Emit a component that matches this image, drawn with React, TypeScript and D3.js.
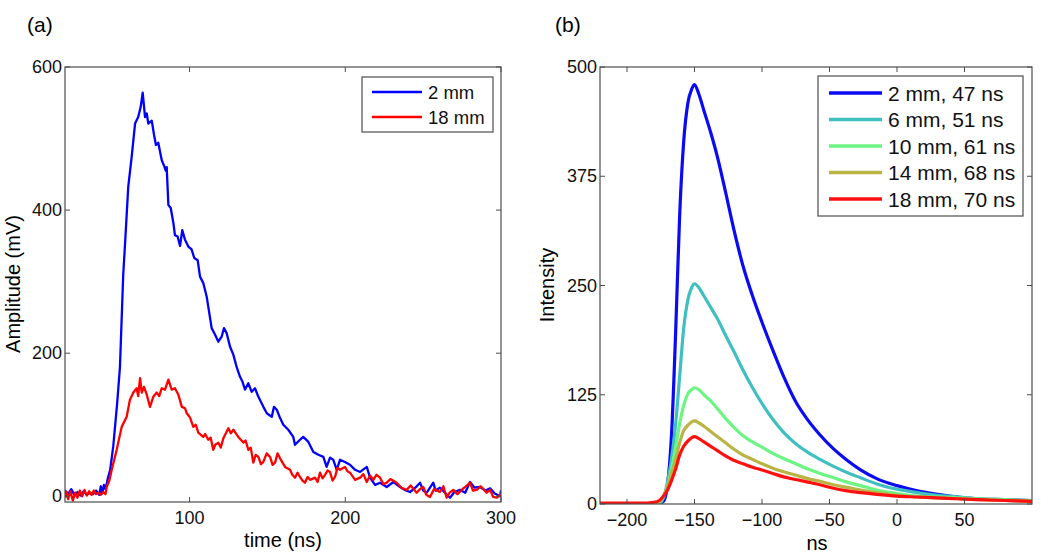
import React, { useRef, useEffect } from "react";
import * as d3 from "d3";

const W = 1050;
const H = 556;
const FONT = "'Liberation Sans', Arial, Helvetica, sans-serif";

// ---- panel (a): amplitude vs time ----
const timeTicks = [100, 200, 300];
const ampTicks = [0, 200, 400, 600];

// [time ns, amplitude mV]
const amp2mm: [number, number][] = [
  [20, 8], [22, 3], [24, 10], [26, 2], [28, 6], [30, 1], [32, 7], [34, 2], [36, 5], [38, 3],
  [40, 8], [42, 2], [43, 14], [44, 4], [45, 16], [46, 10], [47.5, 25], [49, 37], [51, 70],
  [53.5, 130], [55.3, 181], [57.4, 310], [58.7, 358], [60.6, 432], [62.8, 474], [65, 521],
  [67, 530], [68.6, 544], [69.9, 564], [71.4, 530], [72.5, 535], [73.5, 521], [75.7, 525],
  [77.2, 505], [78.4, 491], [79.9, 494], [82.1, 470], [83.6, 462], [84.7, 455], [85.3, 460],
  [86.4, 407], [87.9, 403], [89.6, 382], [90.6, 365], [92.3, 363], [93.9, 350], [95.3, 372],
  [97, 359], [99.2, 349], [101.3, 345], [103, 333], [105.2, 330], [106.7, 307], [108.8, 298],
  [111, 279], [112, 265], [114.2, 235], [116.3, 226], [118.5, 216], [120.6, 223], [122.1, 235],
  [123.8, 228], [126, 209], [128.1, 198], [130.3, 180], [132.4, 167], [134, 160], [135.6, 149],
  [137.7, 158], [139.9, 146], [142, 151], [144.2, 139], [147.4, 125], [149.6, 116], [152.8, 111],
  [154.2, 125], [156, 121], [158, 110], [160.2, 100], [163.4, 93], [166.6, 83], [167.7, 72],
  [170.9, 79], [173, 83], [176.3, 76], [179.5, 62], [182.7, 58], [185.9, 55], [188, 41],
  [190.2, 54], [192.3, 51], [194.5, 37], [196.6, 51], [199.8, 48], [203, 44], [206.3, 37],
  [209.5, 34], [213.8, 41], [215.9, 26], [219.1, 16], [222.3, 19], [226.6, 13], [230.9, 20],
  [235.2, 13], [238, 9], [241.6, 6], [245, 12], [248, 19], [250, 8], [252.3, 5], [256.5, 19],
  [258, 8], [260.8, 12], [264, 5], [267.3, -2], [270, 6], [273.7, 9], [277, 5], [280.1, 20],
  [283, 12], [286.5, 13], [290, 8], [293, 11], [296, 4], [299.4, 0], [300, 8],
];

const amp18mm: [number, number][] = [
  [20, -2], [21, 6], [22, -4], [23.5, 7], [25, -6], [26.5, 5], [28, -2], [29.5, 8], [31, 0],
  [32.5, 9], [34, 1], [35.5, 7], [37, 2], [38.5, 8], [40, 3], [41.5, 5], [43, 2], [44.5, 6],
  [46, 3], [46.8, 13], [48.5, 22], [50, 37], [53.2, 65], [56.4, 97], [59.6, 111], [61.7, 135],
  [63.9, 145], [66, 151], [67, 140], [68.2, 165], [69.3, 145], [70.7, 153], [72.5, 142],
  [74.6, 125], [76.7, 139], [78.9, 145], [80.5, 140], [82.1, 151], [84.2, 149], [86.4, 163],
  [88.5, 149], [90.6, 151], [92.8, 142], [95, 125], [97.1, 123], [98.2, 116], [100.3, 110],
  [102.4, 97], [104, 100], [105.6, 89], [108.8, 83], [110, 87], [112, 79], [113.5, 82],
  [115.2, 65], [116.5, 72], [118.5, 75], [120, 68], [121.7, 81], [124.9, 95], [126.5, 88],
  [128.1, 93], [131.3, 83], [134.5, 75], [136, 78], [137.7, 65], [139.3, 68], [140.9, 47],
  [142.5, 58], [144.2, 55], [145.8, 45], [147.4, 48], [149.5, 60], [151.7, 55], [153.3, 44],
  [154.9, 47], [156.5, 60], [158.1, 53], [161.3, 41], [164.5, 37], [166, 30], [167.7, 26],
  [169.3, 33], [170.9, 27], [172.5, 22], [174.1, 19], [175.8, 27], [177.4, 23], [180.6, 26],
  [182.2, 20], [183.8, 33], [185.4, 25], [187, 30], [188.6, 36], [190.2, 34], [191.8, 22],
  [193.4, 27], [195, 40], [196.6, 37], [199.8, 41], [201.4, 35], [203, 33], [206.3, 23],
  [209.5, 26], [211.6, 31], [213.8, 20], [215.9, 29], [218, 23], [220, 30], [222.3, 26],
  [224.5, 17], [226.6, 19], [229, 24], [233, 19], [236, 12], [239.4, 9], [242, 15], [245.8, 5],
  [248, 10], [250.1, 13], [252, 2], [254.4, -1], [257, 10], [260.8, 6], [263, 14], [265.1, -2],
  [267, 5], [269.4, 9], [272, 3], [275.8, 11], [278, 15], [280.1, 19], [282, 8], [284.4, 9],
  [287, 14], [290.8, 5], [293, 9], [295, -1], [297.3, -2], [300, 3],
];

const seriesA = [
  { label: "2 mm", color: "#0000ff", values: amp2mm },
  { label: "18 mm", color: "#ff0000", values: amp18mm },
];

// ---- panel (b): intensity vs ns ----
const nsTicks = [-200, -150, -100, -50, 0, 50];
const intensityTicks = [0, 125, 250, 375, 500];
const nsGrid = [
  -220, -190, -180, -176, -173, -170, -167, -164, -161, -158, -155, -152, -150, -147, -143,
  -138, -133, -127, -121, -114, -107, -100, -92, -84, -75, -66, -57, -47, -37, -27, -15, 0,
  15, 30, 45, 60, 80, 100,
];
const int2mm = [
  0, 0, 0, 1, 3, 22, 80, 195, 330, 415, 458, 475, 480, 470, 450, 425, 397, 357, 315, 272, 238,
  208, 176, 146, 117, 96, 79, 63, 50, 39, 29, 21, 15, 11, 8, 6, 5, 4,
];
const int6mm = [
  0, 0, 0, 1, 7, 25, 52, 91, 146, 201, 233, 248, 252, 248, 238, 225, 212, 193, 175, 153, 133,
  115, 97, 82, 69, 59, 51, 43, 36, 30, 23, 17, 13, 10, 8, 6, 4, 3,
];
const int10mm = [
  0, 0, 0, 2, 9, 20, 40, 65, 92, 113, 126, 131, 133, 131, 125, 118, 109, 98, 88, 78, 71, 65,
  58, 52, 46, 40, 35, 30, 25, 21, 16, 12, 9, 8, 7, 6, 5, 4,
];
const int14mm = [
  0, 0, 1, 3, 9, 20, 35, 51, 70, 84, 90, 94, 95, 93, 89, 83, 77, 70, 63, 56, 51, 46, 41, 37,
  33, 29, 26, 22, 19, 16, 13, 10, 8, 7, 6, 5, 4, 3,
];
const int18mm = [
  1, 1, 2, 4, 9, 16, 27, 40, 56, 66, 72, 76, 77, 75, 71, 66, 61, 55, 50, 46, 42, 39, 35, 31,
  28, 25, 22, 18, 15, 13, 11, 9, 8, 7, 6, 5, 4, 3,
];

const seriesB = [
  { label: "2 mm, 47 ns", color: "#0a0af5", values: int2mm },
  { label: "6 mm, 51 ns", color: "#3fbfbf", values: int6mm },
  { label: "10 mm, 61 ns", color: "#6cf582", values: int10mm },
  { label: "14 mm, 68 ns", color: "#b9b444", values: int14mm },
  { label: "18 mm, 70 ns", color: "#ff1010", values: int18mm },
];

type G = d3.Selection<SVGGElement, unknown, null, undefined>;

// MATLAB-like boxed axes with inward ticks on all four sides
function drawFrame(
  g: G,
  x: d3.ScaleLinear<number, number>,
  y: d3.ScaleLinear<number, number>,
  xTicks: number[],
  yTicks: number[]
) {
  const [x0, x1] = x.range();
  const [y0, y1] = y.range();
  const tick = 5;
  const axisColor = "#4d4d4d";
  const fmt = d3.format("");

  g.append("rect")
    .attr("x", x0)
    .attr("y", y1)
    .attr("width", x1 - x0)
    .attr("height", y0 - y1)
    .attr("fill", "none")
    .attr("stroke", axisColor)
    .attr("stroke-width", 1.2);

  xTicks.forEach((t) => {
    const px = x(t);
    g.append("line").attr("x1", px).attr("x2", px).attr("y1", y0).attr("y2", y0 - tick)
      .attr("stroke", axisColor);
    g.append("line").attr("x1", px).attr("x2", px).attr("y1", y1).attr("y2", y1 + tick)
      .attr("stroke", axisColor);
    g.append("text")
      .attr("x", px)
      .attr("y", y0 + 22)
      .attr("text-anchor", "middle")
      .style("font-size", "18px")
      .style("fill", "#111")
      .text(fmt(t));
  });

  yTicks.forEach((t) => {
    const py = y(t);
    g.append("line").attr("x1", x0).attr("x2", x0 + tick).attr("y1", py).attr("y2", py)
      .attr("stroke", axisColor);
    g.append("line").attr("x1", x1).attr("x2", x1 - tick).attr("y1", py).attr("y2", py)
      .attr("stroke", axisColor);
    g.append("text")
      .attr("x", x0 - 3)
      .attr("y", py + 6)
      .attr("text-anchor", "end")
      .style("font-size", "18px")
      .style("fill", "#111")
      .text(fmt(t));
  });
}

function drawLegend(
  g: G,
  items: { label: string; color: string }[],
  box: { x: number; y: number; w: number; h: number },
  row0: number,
  step: number,
  lineX: [number, number],
  fontSize: number,
  lineWidth: number
) {
  g.append("rect")
    .attr("x", box.x)
    .attr("y", box.y)
    .attr("width", box.w)
    .attr("height", box.h)
    .attr("fill", "#fff")
    .attr("stroke", "#4d4d4d")
    .attr("stroke-width", 1.2);
  items.forEach((d, i) => {
    const cy = row0 + i * step;
    g.append("line")
      .attr("x1", lineX[0])
      .attr("x2", lineX[1])
      .attr("y1", cy)
      .attr("y2", cy)
      .attr("stroke", d.color)
      .attr("stroke-width", lineWidth);
    g.append("text")
      .attr("x", lineX[1] + 6)
      .attr("y", cy + fontSize * 0.36)
      .style("font-size", `${fontSize}px`)
      .style("fill", "#111")
      .text(d.label);
  });
}

const App = () => {
  const svgRef = useRef<SVGSVGElement | null>(null);

  useEffect(() => {
    if (!svgRef.current) return;
    const svg = d3.select(svgRef.current);
    svg.selectAll("*").remove();
    const root = svg.append("g").style("font-family", FONT) as unknown as G;

    // ---------- panel (a) ----------
    const xa = d3.scaleLinear().domain([20, 300]).range([65, 501]);
    const ya = d3.scaleLinear().domain([-8, 600]).range([502, 67]);
    const ga = root.append("g") as G;

    const lineA = d3
      .line<[number, number]>()
      .x((d) => xa(d[0]))
      .y((d) => ya(d[1]));

    ga.append("defs")
      .append("clipPath")
      .attr("id", "clipA")
      .append("rect")
      .attr("x", 65)
      .attr("y", 67)
      .attr("width", 436)
      .attr("height", 435);

    seriesA.forEach((s) => {
      ga.append("path")
        .datum(s.values)
        .attr("d", lineA)
        .attr("fill", "none")
        .attr("stroke", s.color)
        .attr("stroke-width", 2.3)
        .attr("stroke-linejoin", "round")
        .attr("clip-path", "url(#clipA)");
    });
    drawFrame(ga, xa, ya, timeTicks, ampTicks);

    drawLegend(
      ga,
      seriesA,
      { x: 362, y: 77, w: 131, h: 55 },
      92,
      25,
      [372, 422],
      18.5,
      2.3
    );

    ga.append("text")
      .attr("x", 27)
      .attr("y", 32)
      .style("font-size", "21px")
      .text("(a)");
    ga.append("text")
      .attr("x", 283)
      .attr("y", 547)
      .attr("text-anchor", "middle")
      .style("font-size", "20px")
      .text("time (ns)");
    ga.append("text")
      .attr("transform", "translate(20, 284) rotate(-90)")
      .attr("text-anchor", "middle")
      .style("font-size", "20px")
      .text("Amplitude (mV)");

    // ---------- panel (b) ----------
    const xb = d3.scaleLinear().domain([-220, 100]).range([600, 1032]);
    const yb = d3.scaleLinear().domain([0, 500]).range([504, 67]);
    const gb = root.append("g") as G;

    gb.append("defs")
      .append("clipPath")
      .attr("id", "clipB")
      .append("rect")
      .attr("x", 600)
      .attr("y", 67)
      .attr("width", 432)
      .attr("height", 437);

    const lineB = d3
      .line<number>()
      .x((_, i) => xb(nsGrid[i]))
      .y((d) => yb(d))
      .curve(d3.curveMonotoneX);

    seriesB.forEach((s) => {
      gb.append("path")
        .datum(s.values)
        .attr("d", lineB)
        .attr("fill", "none")
        .attr("stroke", s.color)
        .attr("stroke-width", 3.2)
        .attr("stroke-linejoin", "round")
        .attr("clip-path", "url(#clipB)");
    });
    drawFrame(gb, xb, yb, nsTicks, intensityTicks);

    drawLegend(
      gb,
      seriesB,
      { x: 818, y: 76, w: 205, h: 140 },
      93,
      26.5,
      [829, 882],
      21,
      3.5
    );

    gb.append("text")
      .attr("x", 555)
      .attr("y", 32)
      .style("font-size", "21px")
      .text("(b)");
    gb.append("text")
      .attr("x", 817)
      .attr("y", 550)
      .attr("text-anchor", "middle")
      .style("font-size", "20px")
      .text("ns");
    gb.append("text")
      .attr("transform", "translate(554, 285) rotate(-90)")
      .attr("text-anchor", "middle")
      .style("font-size", "20px")
      .text("Intensity");
  }, []);

  return (
    <svg
      ref={svgRef}
      width={W}
      height={H}
      viewBox={`0 0 ${W} ${H}`}
      style={{ position: "absolute", left: 0, top: 0, background: "#fff" }}
    />
  );
};

export default App;
